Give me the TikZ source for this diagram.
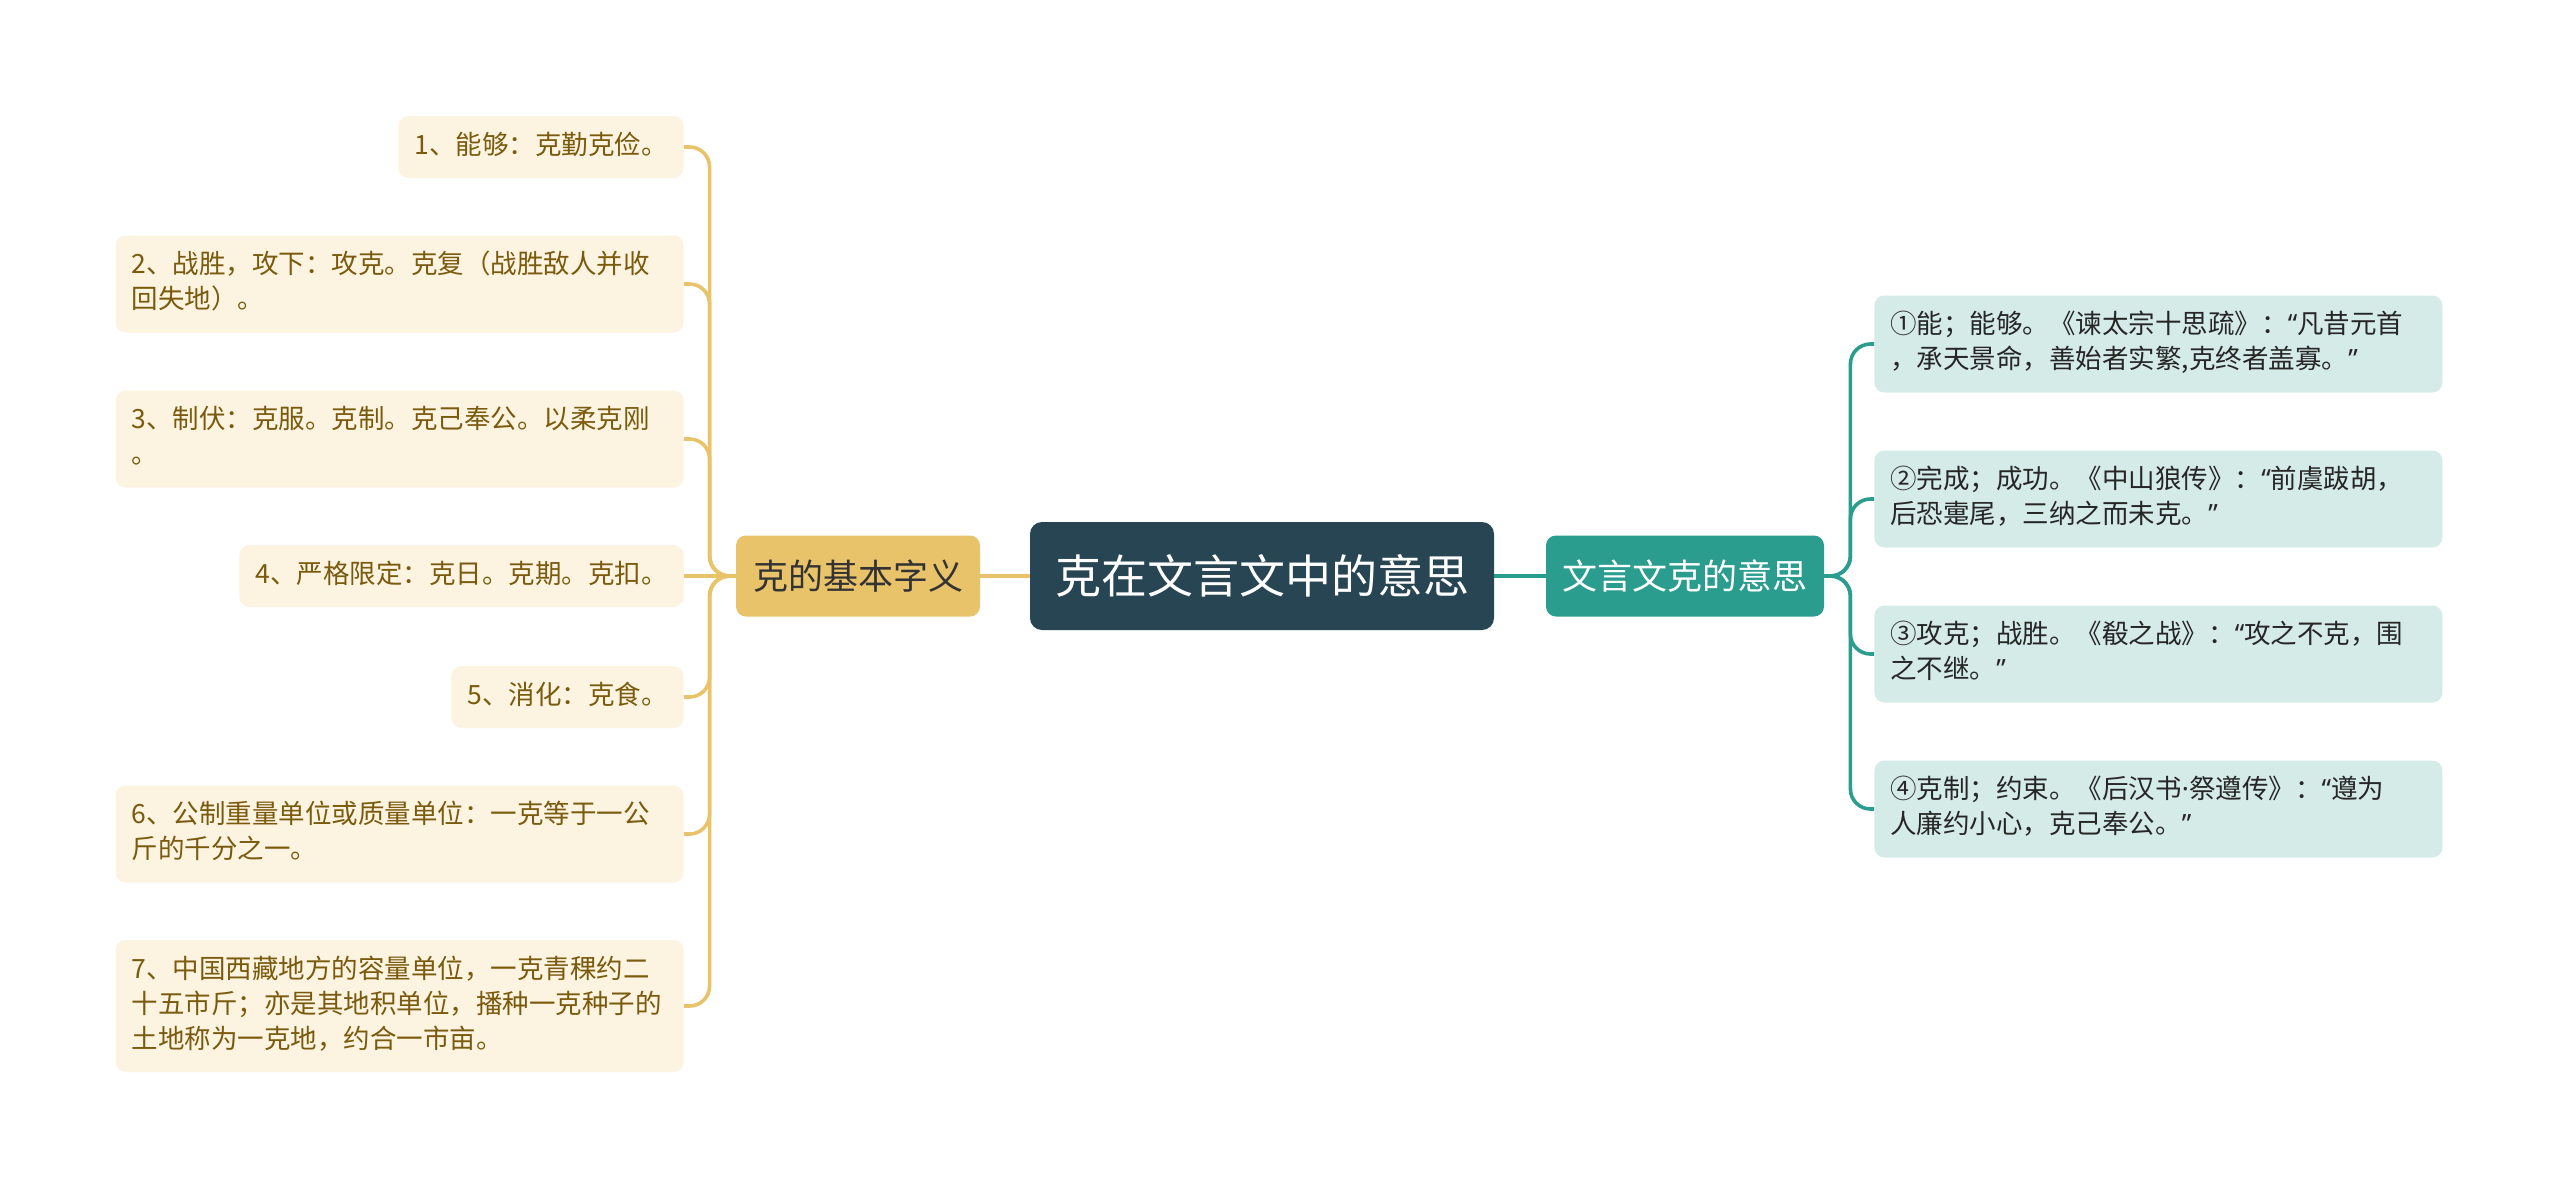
\documentclass[tikz,border=0pt]{standalone}
\usepackage{fontspec}
\setmainfont{Noto Sans CJK SC}
\newfontfamily\latin{Noto Sans}
\newcommand{\openq}{{\latin “}}
\newcommand{\closeq}{{\latin ”}}
\definecolor{rootfill}{HTML}{274553}
\definecolor{gold}{HTML}{E8C36A}
\definecolor{cream}{HTML}{FCF3E1}
\definecolor{goldtext}{HTML}{7A5A0C}
\definecolor{teal}{HTML}{2A9D8F}
\definecolor{mint}{HTML}{D5EBE8}

\begin{document}
\begin{tikzpicture}[x=0.5pt,y=-0.5pt,
  leaf/.style={rounded corners=5pt,inner xsep=8pt,inner ysep=6.75pt,align=left,
    font=\fontsize{13.25}{17.5}\selectfont,
    execute at begin node=\strut,execute at end node=\strut},
  leafL/.style={leaf,fill=cream,text=goldtext,anchor=east},
  leafR/.style={leaf,fill=mint,text=black!85,anchor=west,text width=268pt},
  wide/.style={text width=268pt},
  lline/.style={draw=gold,line width=1.8pt,rounded corners=10pt},
  rline/.style={draw=teal,line width=1.8pt,rounded corners=10pt}]

  \useasboundingbox (0,0) rectangle (2560,1189);

  % centre and the two branches
  \node (root) [fill=rootfill,text=white,rounded corners=6pt,minimum width=232pt,
    minimum height=54pt,font=\fontsize{23}{28}\selectfont] at (1262,576) {克在文言文中的意思};
  \node (lb) [fill=gold,text=black!80,rounded corners=5pt,minimum width=122pt,
    minimum height=40.5pt,font=\fontsize{17.5}{21}\selectfont] at (858,576) {克的基本字义};
  \node (rb) [fill=teal,text=white,rounded corners=5pt,minimum width=139pt,
    minimum height=40.5pt,font=\fontsize{17.5}{21}\selectfont] at (1685,576) {文言文克的意思};

  % left leaves
  \node (l1) [leafL] at (684,147) {1、能够：克勤克俭。};
  \node (l2) [leafL,wide] at (684,284) {2、战胜，攻下：攻克。克复（战胜敌人并收\\回失地）。};
  \node (l3) [leafL,wide] at (684,439) {3、制伏：克服。克制。克己奉公。以柔克刚\\。};
  \node (l4) [leafL] at (684,576) {4、严格限定：克日。克期。克扣。};
  \node (l5) [leafL] at (684,697) {5、消化：克食。};
  \node (l6) [leafL,wide] at (684,834) {6、公制重量单位或质量单位：一克等于一公\\斤的千分之一。};
  \node (l7) [leafL,wide] at (684,1006) {7、中国西藏地方的容量单位，一克青稞约二\\十五市斤；亦是其地积单位，播种一克种子的\\土地称为一克地，约合一市亩。};

  % right leaves
  \node (r1) [leafR] at (1874,344) {①能；能够。《谏太宗十思疏》：\openq 凡昔元首\\，承天景命，善始者实繁{,}克终者盖寡。\closeq};
  \node (r2) [leafR] at (1874,499) {②完成；成功。《中山狼传》：\openq 前虞跋胡，\\后恐疐尾，三纳之而未克。\closeq};
  \node (r3) [leafR] at (1874,654) {③攻克；战胜。《殽之战》：\openq 攻之不克，围\\之不继。\closeq};
  \node (r4) [leafR] at (1874,809) {④克制；约束。《后汉书{\latin ·}祭遵传》：\openq 遵为\\人廉约小心，克己奉公。\closeq};

  % connectors
  \draw[lline] (root.west) -- (lb.east);
  \draw[rline] (root.east) -- (rb.west);
  \draw[lline] (lb.west) -- (l4.east);
  \foreach \n in {1,2,3,5,6,7}{
  \draw[lline] (lb.west) -- ++(-26,0) |- (l\n.east);
  }
  \foreach \n in {1,...,4}{
  \draw[rline] (rb.east) -- ++(26,0) |- (r\n.west);
  }

\end{tikzpicture}
\end{document}
